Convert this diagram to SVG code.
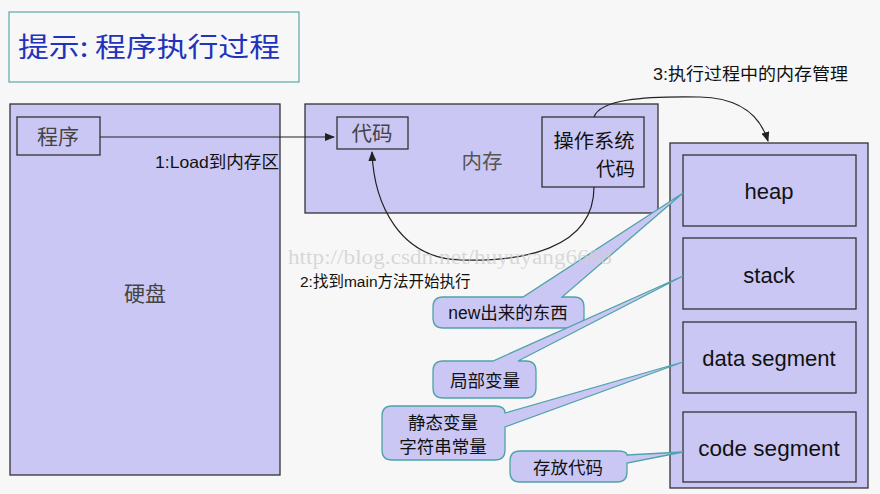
<svg xmlns="http://www.w3.org/2000/svg" width="880" height="494" viewBox="0 0 880 494">
<defs>
<style>
.box{fill:#cbc7f4;stroke:#333;stroke-width:1.3}
.cjk{font-family:"Noto Sans CJK SC","Liberation Sans",sans-serif}
.lat{font-family:"Liberation Sans","Noto Sans CJK SC",sans-serif}
.call{fill:#cbc7f4;stroke:#4fa3a8;stroke-width:1.3}
.conn{fill:none;stroke:#222;stroke-width:1.2}
</style>
<marker id="ah" markerWidth="10" markerHeight="8" refX="9" refY="4" orient="auto" markerUnits="userSpaceOnUse">
<path d="M0,0 L10,4 L0,8 Z" fill="#222"/>
</marker>
</defs>
<rect width="880" height="494" fill="#f7f7f7"/>
<g id="title">
<rect x="9" y="12" width="290" height="70" fill="#f7f7f7" stroke="#5aa9a9" stroke-width="1.2"/>
<text x="18" y="57" class="cjk" font-size="27" fill="#2233bb" textLength="262" lengthAdjust="spacingAndGlyphs">提示: 程序执行过程</text>
</g>
<g id="disk">
<rect class="box" x="10" y="104" width="270" height="371"/>
<text x="145" y="301" class="cjk" font-size="21" fill="#444" text-anchor="middle">硬盘</text>
</g>
<g id="program">
<rect class="box" x="17" y="117" width="83" height="38"/>
<text x="58" y="144" class="cjk" font-size="21" fill="#444" text-anchor="middle">程序</text>
</g>
<g id="memory">
<rect class="box" x="305" y="104" width="353" height="109"/>
<text x="482" y="169" class="cjk" font-size="20.5" fill="#555" text-anchor="middle">内存</text>
</g>
<g id="code">
<rect class="box" x="337" y="117" width="71" height="32"/>
<text x="372" y="141" class="cjk" font-size="20.5" fill="#444" text-anchor="middle">代码</text>
</g>
<g id="oscode">
<rect class="box" x="542" y="117" width="102" height="70"/>
<text x="594" y="148" class="cjk" font-size="19.5" fill="#111" text-anchor="middle" textLength="81" lengthAdjust="spacingAndGlyphs">操作系统</text>
<text x="635" y="176" class="cjk" font-size="19.5" fill="#111" text-anchor="end">代码</text>
</g>
<g id="memmgmt">
<rect class="box" x="670" y="143" width="198" height="345"/>
</g>
<g id="heap">
<rect class="box" x="683" y="155" width="173" height="71"/>
<text x="769" y="199" class="lat" font-size="22" fill="#111" text-anchor="middle">heap</text>
</g>
<g id="stack">
<rect class="box" x="683" y="238" width="173" height="71"/>
<text x="769" y="283" class="lat" font-size="22" fill="#111" text-anchor="middle">stack</text>
</g>
<g id="data">
<rect class="box" x="683" y="322" width="173" height="71"/>
<text x="769" y="366" class="lat" font-size="22" fill="#111" text-anchor="middle">data segment</text>
</g>
<g id="codeseg">
<rect class="box" x="683" y="412" width="173" height="70"/>
<text x="769" y="456" class="lat" font-size="22.5" fill="#111" text-anchor="middle">code segment</text>
</g>
<g id="callouts">
<g id="c-new">
<path class="call" d="M443 297 L523 297 L683 193 L562 297 L574 297 Q584 297 584 307 L584 318 Q584 328 574 328 L443 328 Q433 328 433 318 L433 307 Q433 297 443 297 Z"/>
<text x="508" y="319" class="lat" font-size="17.5" fill="#111" text-anchor="middle">new出来的东西</text>
</g>
<g id="c-local">
<path class="call" d="M443 361 L493 361 L683 276 L518 361 L526 361 Q536 361 536 371 L536 388 Q536 398 526 398 L443 398 Q433 398 433 388 L433 371 Q433 361 443 361 Z"/>
<text x="485" y="387" class="cjk" font-size="17.5" fill="#111" text-anchor="middle">局部变量</text>
</g>
<g id="c-static">
<path class="call" d="M392 406 L495 406 Q505 406 505 413 L683 362 L505 427 L505 450 Q505 460 495 460 L392 460 Q382 460 382 450 L382 416 Q382 406 392 406 Z"/>
<text x="443" y="429" class="cjk" font-size="17.5" fill="#111" text-anchor="middle">静态变量</text>
<text x="443" y="453" class="cjk" font-size="17.5" fill="#111" text-anchor="middle">字符串常量</text>
</g>
<g id="c-code">
<path class="call" d="M520 451 L617 451 Q627 451 627 455 L683 452 L627 463 L627 472 Q627 482 617 482 L520 482 Q510 482 510 472 L510 461 Q510 451 520 451 Z"/>
<text x="568" y="474" class="cjk" font-size="17.5" fill="#111" text-anchor="middle">存放代码</text>
</g>
</g>
<g id="connectors">
<path class="conn" d="M100 137 L334 137" marker-end="url(#ah)"/>
<path class="conn" d="M594 187 C594 250 520 262 460 260 C400 258 374 205 372 152" marker-end="url(#ah)"/>
<path class="conn" d="M594 117 C600 100 640 96 700 97 C740 98 760 115 768 141" marker-end="url(#ah)"/>
<text x="155" y="168" class="lat" font-size="16.5" fill="#111" textLength="124" lengthAdjust="spacingAndGlyphs">1:Load到内存区</text>
<text x="300" y="287" class="lat" font-size="15.5" fill="#111">2:找到main方法开始执行</text>
<text x="653" y="80" class="lat" font-size="17" fill="#111" textLength="195" lengthAdjust="spacingAndGlyphs">3:执行过程中的内存管理</text>
</g>
<text x="288" y="264" font-family="Liberation Serif,serif" font-size="20" fill="#cfcfcf" fill-opacity="0.8" textLength="324" lengthAdjust="spacingAndGlyphs">http://blog.csdn.net/huyuyang6688</text>
</svg>
